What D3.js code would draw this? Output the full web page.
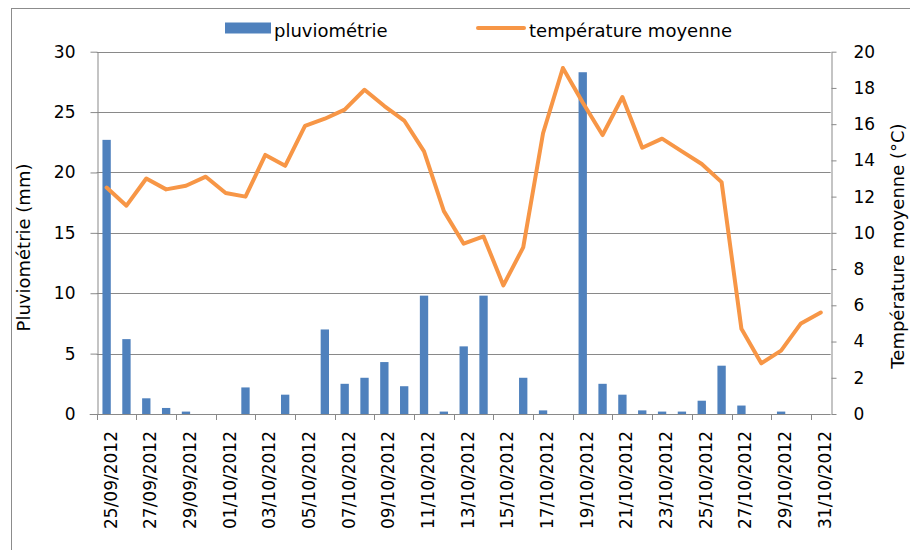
<!DOCTYPE html>
<html>
<head>
<meta charset="utf-8">
<script src="https://cdn.jsdelivr.net/npm/d3@7"></script>
<style>
  html, body { margin: 0; padding: 0; background: #fff; }
  svg { display: block; font-family: "DejaVu Sans", sans-serif; }
</style>
</head>
<body>
<svg id="chart" width="910" height="550"></svg>
<script>
// ---------- Data ----------
const dates = [
  '25/09/2012', '26/09/2012', '27/09/2012', '28/09/2012', '29/09/2012', '30/09/2012',
  '01/10/2012', '02/10/2012', '03/10/2012', '04/10/2012', '05/10/2012', '06/10/2012',
  '07/10/2012', '08/10/2012', '09/10/2012', '10/10/2012', '11/10/2012', '12/10/2012',
  '13/10/2012', '14/10/2012', '15/10/2012', '16/10/2012', '17/10/2012', '18/10/2012',
  '19/10/2012', '20/10/2012', '21/10/2012', '22/10/2012', '23/10/2012', '24/10/2012',
  '25/10/2012', '26/10/2012', '27/10/2012', '28/10/2012', '29/10/2012', '30/10/2012',
  '31/10/2012'
];

// pluviométrie (mm)
const rain = [
  22.7, 6.2, 1.3, 0.5, 0.2, 0,
  0, 2.2, 0, 1.6, 0, 7.0,
  2.5, 3.0, 4.3, 2.3, 9.8, 0.2,
  5.6, 9.8, 0, 3.0, 0.3, 0,
  28.3, 2.5, 1.6, 0.3, 0.2, 0.2,
  1.1, 4.0, 0.7, 0, 0.2, 0,
  0
];

// température moyenne (°C)
const temp = [
  12.5, 11.5, 13.0, 12.4, 12.6, 13.1,
  12.2, 12.0, 14.3, 13.7, 15.9, 16.3,
  16.8, 17.9, 17.0, 16.2, 14.5, 11.2,
  9.4, 9.8, 7.1, 9.2, 15.5, 19.1,
  17.2, 15.4, 17.5, 14.7, 15.2, 14.5,
  13.8, 12.8, 4.7, 2.8, 3.5, 5.0,
  5.6
];

const rainTicks = [0, 5, 10, 15, 20, 25, 30];
const tempTicks = [0, 2, 4, 6, 8, 10, 12, 14, 16, 18, 20];

// ---------- Layout ----------
const W = 910, H = 550;
const plot = { left: 96.7, right: 830.7, top: 51.7, bottom: 414 };
const gridColor = '#898989';
const barColor = '#4F81BD';
const lineColor = '#F79646';

const svg = d3.select('#chart');

// chart frame (right/bottom edges fall outside the picture)
svg.append('rect')
  .attr('x', 11.5).attr('y', 8.5)
  .attr('width', 930).attr('height', 570)
  .attr('fill', 'none')
  .attr('stroke', '#8c8c8c')
  .attr('stroke-width', 1);

// ---------- Scales ----------
const x = d3.scaleBand()
  .domain(dates)
  .range([plot.left, plot.right])
  .padding(0);

const yRain = d3.scaleLinear().domain([0, 30]).range([plot.bottom, plot.top]);
const yTemp = d3.scaleLinear().domain([0, 20]).range([plot.bottom, plot.top]);

// ---------- Gridlines ----------
svg.append('g').attr('class', 'grid')
  .selectAll('line')
  .data(rainTicks.filter(t => t > 0))
  .join('line')
  .attr('x1', plot.left).attr('x2', plot.right)
  .attr('y1', d => Math.round(yRain(d)) + 0.5)
  .attr('y2', d => Math.round(yRain(d)) + 0.5)
  .attr('stroke', gridColor)
  .attr('stroke-width', 1);

// ---------- Bars ----------
const barFrac = 0.42;
svg.append('g').attr('class', 'bars')
  .selectAll('rect')
  .data(dates.map((d, i) => ({ date: d, value: rain[i] })))
  .join('rect')
  .attr('x', d => x(d.date) + x.bandwidth() * (1 - barFrac) / 2)
  .attr('width', x.bandwidth() * barFrac)
  .attr('y', d => yRain(d.value))
  .attr('height', d => plot.bottom - yRain(d.value))
  .attr('fill', barColor);

// ---------- Axes ----------
const axisLeft = d3.axisLeft(yRain)
  .tickValues(rainTicks)
  .tickSize(7)
  .tickSizeOuter(0)
  .tickPadding(15);

const gLeft = svg.append('g')
  .attr('transform', `translate(${Math.round(plot.left) + 0.5},0)`)
  .call(axisLeft);

const axisRight = d3.axisRight(yTemp)
  .tickValues(tempTicks)
  .tickSize(5)
  .tickSizeOuter(0)
  .tickPadding(17);

const gRight = svg.append('g')
  .attr('transform', `translate(${Math.round(plot.right) + 0.5},0)`)
  .call(axisRight);

[gLeft, gRight].forEach(g => {
  g.select('.domain').attr('stroke', gridColor);
  g.selectAll('.tick line').attr('stroke', gridColor);
  g.selectAll('.tick text')
    .attr('font-family', '"DejaVu Sans", sans-serif')
    .attr('font-size', 17)
    .attr('fill', '#000');
});

// x axis line + category ticks (every 2 days, on the band edges)
const gBottom = svg.append('g').attr('class', 'x-axis');
gBottom.append('line')
  .attr('x1', plot.left - 7).attr('x2', plot.right)
  .attr('y1', Math.round(plot.bottom) + 0.5).attr('y2', Math.round(plot.bottom) + 0.5)
  .attr('stroke', gridColor);

gBottom.selectAll('line.tick')
  .data(dates.filter((d, i) => i % 2 === 0))
  .join('line')
  .attr('class', 'tick')
  .attr('x1', d => Math.round(x(d)) + 0.5)
  .attr('x2', d => Math.round(x(d)) + 0.5)
  .attr('y1', plot.bottom)
  .attr('y2', plot.bottom + 6)
  .attr('stroke', gridColor);

gBottom.selectAll('text')
  .data(dates.filter((d, i) => i % 2 === 0))
  .join('text')
  .attr('transform', d => `translate(${x(d) + x.bandwidth() / 2 + 10},431) rotate(-90)`)
  .attr('text-anchor', 'end')
  .attr('font-size', 17)
  .attr('fill', '#000')
  .text(d => d);

// ---------- Temperature line ----------
const line = d3.line()
  .x((d, i) => x(dates[i]) + x.bandwidth() / 2)
  .y(d => yTemp(d));

svg.append('path')
  .datum(temp)
  .attr('d', line)
  .attr('fill', 'none')
  .attr('stroke', lineColor)
  .attr('stroke-width', 4)
  .attr('stroke-linejoin', 'round')
  .attr('stroke-linecap', 'round');

// ---------- Axis titles ----------
svg.append('text')
  .attr('transform', 'translate(30,247.5) rotate(-90)')
  .attr('text-anchor', 'middle')
  .attr('font-size', 18)
  .text('Pluviométrie (mm)');

svg.append('text')
  .attr('transform', 'translate(903.5,246) rotate(-90)')
  .attr('text-anchor', 'middle')
  .attr('font-size', 18)
  .text('Température moyenne (°C)');

// ---------- Legend ----------
const legend = svg.append('g').attr('class', 'legend');
legend.append('rect')
  .attr('x', 225).attr('y', 22.5)
  .attr('width', 46).attr('height', 11)
  .attr('fill', barColor);
legend.append('text')
  .attr('x', 274).attr('y', 36.5)
  .attr('font-size', 18)
  .text('pluviométrie');

legend.append('line')
  .attr('x1', 478).attr('x2', 524)
  .attr('y1', 28).attr('y2', 28)
  .attr('stroke', lineColor)
  .attr('stroke-width', 4)
  .attr('stroke-linecap', 'round');
legend.append('text')
  .attr('x', 529).attr('y', 36.5)
  .attr('font-size', 18)
  .text('température moyenne');
</script>
</body>
</html>
